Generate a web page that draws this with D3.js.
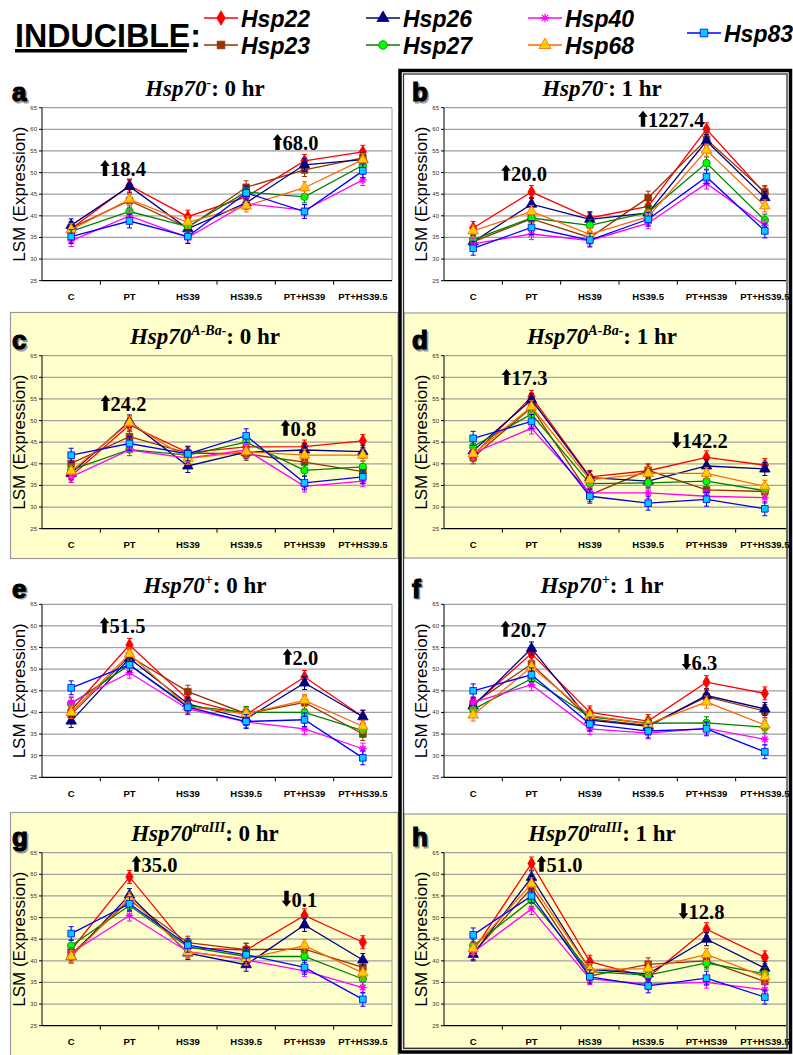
<!DOCTYPE html>
<html>
<head>
<meta charset="utf-8">
<script src="https://d3js.org/d3.v7.min.js"></script>
<style>
  body { margin: 0; background: #fff; }
  svg { display: block; }
</style>
</head>
<body>
<script>
  // ---- data ----
  var categories = ["C", "PT", "HS39", "HS39.5", "PT+HS39", "PT+HS39.5"];
  var genes = ["Hsp22", "Hsp23", "Hsp26", "Hsp27", "Hsp40", "Hsp68", "Hsp83"];
  var yTicks = [25, 30, 35, 40, 45, 50, 55, 60, 65];
  var errSE = [1.5, 1.5, 1.5, 1.4, 1.3, 1.4, 1.6];

  // LSM values: one row per gene (genes order), one column per category
  var lsmA = [
    [37.0, 47.0, 39.8, 44.4, 52.7, 54.8],
    [37.2, 43.5, 37.3, 46.6, 50.6, 53.4],
    [37.8, 46.8, 37.0, 43.0, 51.8, 53.0],
    [36.4, 41.0, 37.5, 45.5, 44.4, 51.7],
    [34.2, 40.0, 35.0, 42.8, 41.3, 48.3],
    [36.8, 43.8, 38.5, 42.3, 46.5, 53.0],
    [35.2, 38.8, 35.2, 45.3, 41.0, 50.4]
  ];
  var lsmB = [
    [37.2, 45.5, 39.5, 42.2, 60.0, 45.2],
    [34.0, 39.3, 35.0, 44.2, 57.7, 45.5],
    [34.0, 42.7, 39.2, 40.7, 57.3, 44.2],
    [34.5, 39.5, 37.8, 40.8, 52.2, 39.0],
    [33.5, 35.8, 34.3, 38.3, 47.5, 37.8],
    [36.5, 41.0, 35.7, 39.8, 55.2, 42.3],
    [32.5, 37.3, 34.4, 39.2, 49.0, 36.5]
  ];
  var lsmC = [
    [37.2, 49.0, 42.6, 43.9, 44.0, 45.3],
    [40.1, 46.3, 42.5, 42.3, 40.4, 38.2],
    [37.8, 49.8, 39.5, 42.7, 43.2, 42.8],
    [38.6, 43.3, 42.0, 45.0, 38.5, 39.3],
    [37.0, 43.2, 41.3, 43.2, 34.8, 36.0],
    [38.3, 49.5, 41.2, 42.8, 42.0, 42.0],
    [42.0, 44.7, 42.3, 46.5, 35.6, 37.0]
  ];
  var lsmD = [
    [42.0, 55.5, 37.0, 38.4, 41.5, 39.7],
    [41.5, 53.0, 32.8, 38.5, 34.0, 33.6],
    [43.0, 54.8, 36.8, 36.0, 39.5, 38.8],
    [44.0, 51.5, 35.4, 35.6, 36.0, 33.8],
    [42.5, 48.2, 33.3, 33.3, 32.5, 32.2],
    [42.3, 53.2, 36.3, 37.8, 37.8, 34.8],
    [45.9, 49.8, 32.5, 30.9, 31.8, 29.6]
  ];
  var lsmE = [
    [40.5, 55.6, 43.0, 39.5, 48.2, 39.0],
    [39.5, 53.0, 44.8, 39.7, 42.3, 35.0],
    [38.0, 52.5, 42.0, 38.5, 46.8, 39.0],
    [42.0, 51.0, 41.5, 40.0, 40.0, 35.8],
    [42.3, 49.2, 40.8, 37.8, 36.2, 31.6],
    [40.0, 53.5, 41.3, 39.7, 42.8, 36.8],
    [45.7, 51.0, 41.2, 37.9, 38.3, 29.5]
  ];
  var lsmF = [
    [41.7, 53.6, 40.0, 38.0, 47.0, 44.4],
    [42.0, 51.2, 38.5, 37.0, 43.6, 40.3],
    [41.5, 54.8, 38.2, 36.8, 43.9, 40.8],
    [40.7, 47.8, 39.0, 37.5, 37.6, 36.6],
    [42.3, 46.4, 36.2, 35.2, 36.3, 33.8],
    [39.4, 50.5, 39.3, 37.3, 42.4, 37.1],
    [45.0, 48.7, 37.3, 35.7, 36.2, 30.9]
  ];
  var lsmG = [
    [42.5, 59.4, 43.0, 42.5, 50.5, 44.3],
    [41.5, 54.0, 44.2, 42.6, 42.7, 38.5],
    [41.0, 55.2, 41.8, 39.1, 48.3, 40.2],
    [43.5, 52.8, 43.2, 41.0, 41.0, 35.8],
    [41.8, 50.5, 42.1, 40.2, 37.7, 33.8],
    [41.0, 54.5, 42.0, 40.5, 43.5, 37.2],
    [46.3, 53.2, 43.6, 41.4, 38.5, 31.1]
  ];
  var lsmH = [
    [42.3, 62.5, 39.8, 36.2, 47.3, 40.8],
    [41.8, 56.8, 36.5, 39.2, 40.0, 35.2],
    [41.5, 59.3, 38.0, 37.0, 45.0, 38.3],
    [43.5, 54.0, 37.5, 36.7, 39.5, 37.0],
    [42.0, 52.0, 35.8, 34.6, 35.0, 33.3],
    [42.8, 57.8, 38.0, 38.2, 41.5, 36.3],
    [46.0, 55.0, 36.3, 34.2, 36.0, 31.6]
  ];

  var panelLetters = ["a", "b", "c", "d", "e", "f", "g", "h"];
  var titleSups = ["-", "-", "A-Ba-", "A-Ba-", "+", "+", "traIII", "traIII"];
  var titleTimes = [": 0 hr", ": 1 hr", ": 0 hr", ": 1 hr", ": 0 hr", ": 1 hr", ": 0 hr", ": 1 hr"];

  // fold-change annotations (first at PT, second at PT+HS39)
  var annoText = [["18.4", "68.0"], ["20.0", "1227.4"], ["24.2", "0.8"], ["17.3", "142.2"],
                  ["51.5", "2.0"], ["20.7", "6.3"], ["35.0", "0.1"], ["51.0", "12.8"]];
  var annoDir = [["up", "up"], ["up", "up"], ["up", "up"], ["up", "down"],
                 ["up", "up"], ["up", "down"], ["up", "down"], ["up", "down"]];
  var annoCat = ["PT", "PT+HS39"];
  var annoLevel = [[49.2, 55.2], [48.1, 60.6], [52.2, 46.5], [58.2, 43.6],
                   [58.3, 51.0], [57.5, 49.8], [60.6, 52.5], [60.6, 49.6]];

  // ---- styles / layout ----
  var lineColors = ["#ff0000", "#993300", "#000080", "#008000", "#ff00ff", "#ff6600", "#0000ff"];
  var fillColors = ["#ff0000", "#993300", "#000080", "#00ff00", "none", "#ffcc00", "#00ccff"];
  var shapes = ["diamond", "square", "triangle", "circle", "star", "triangle", "square"];
  var annoDx = [[-24.5, -27], [-25.5, -63.5], [-24, -19], [-25, -30],
                [-25, -17], [-26, -20], [7, -18], [10, -23]];

  var W = 793, H = 1055;
  var rowTop = [107.7, 355.7, 604.3, 852.7];
  var plotH = 173;
  var colX = [[42, 392], [444, 794]];
  var colTitleX = [205, 602];
  var colLetterX = [12, 412];
  var colYLabelX = [25, 427];
  var colClip = [392, 786];
  var panelData = [lsmA, lsmB, lsmC, lsmD, lsmE, lsmF, lsmG, lsmH];

  var svg = d3.select('body').append('svg')
    .attr('width', W).attr('height', H)
    .style('font-family', 'Liberation Sans, Arial, sans-serif');

  function markerPath(shape) {
    if (shape === 'diamond') return d3.symbol().type(d3.symbolDiamond).size(46)();
    if (shape === 'square') return d3.symbol().type(d3.symbolSquare).size(44)();
    if (shape === 'triangle') return d3.symbol().type(d3.symbolTriangle).size(48)();
    if (shape === 'circle') return d3.symbol().type(d3.symbolCircle).size(44)();
    // asterisk
    var r = 3.8, q = 2.7;
    return 'M0,' + (-r) + 'V' + r + 'M' + (-q) + ',' + (-q) + 'L' + q + ',' + q +
      'M' + (-q) + ',' + q + 'L' + q + ',' + (-q) + 'M' + (-r) + ',0H' + r;
  }

  // ---- panel backgrounds ----
  var boxes = [null, null, [10.5, 312.5, 387.5, 246], [404, 313, 383, 245],
               null, null, [10.5, 812.5, 387.5, 244], [404, 814, 383, 234]];
  boxes.forEach(function(b) {
    if (!b) return;
    svg.append('rect').attr('x', b[0]).attr('y', b[1]).attr('width', b[2]).attr('height', b[3])
      .attr('fill', '#ffffcc').attr('stroke', '#9a9a9a').attr('stroke-width', 1.2);
  });

  // ---- panels ----
  panelData.forEach(function(data, p) {
    var col = p % 2, row = Math.floor(p / 2);
    var top = rowTop[row];
    var g = svg.append('g');

    var x = d3.scaleBand().domain(categories).range(colX[col]);
    var y = d3.scaleLinear().domain([25, 65]).range([top + plotH, top]);
    var xEnd = colClip[col];

    // gridlines
    g.selectAll('.grid').data(yTicks.slice(1)).enter().append('line')
      .attr('x1', colX[col][0]).attr('x2', xEnd)
      .attr('y1', function(d) { return y(d); }).attr('y2', function(d) { return y(d); })
      .attr('stroke', '#a0a0a0').attr('stroke-width', 1.3);
    if (col === 0) {
      g.append('line').attr('x1', xEnd).attr('x2', xEnd).attr('y1', y(65)).attr('y2', y(25))
        .attr('stroke', '#a0a0a0').attr('stroke-width', 1);
    }

    // y axis
    g.append('line').attr('x1', colX[col][0]).attr('x2', colX[col][0])
      .attr('y1', y(65)).attr('y2', y(25)).attr('stroke', '#000').attr('stroke-width', 1);
    g.selectAll('.ytick').data(yTicks).enter().append('line')
      .attr('x1', colX[col][0] - 3).attr('x2', colX[col][0])
      .attr('y1', function(d) { return y(d); }).attr('y2', function(d) { return y(d); })
      .attr('stroke', '#000');
    g.selectAll('.ylab').data(yTicks).enter().append('text')
      .attr('x', colX[col][0] - 5).attr('y', function(d) { return y(d) + 2; })
      .attr('text-anchor', 'end').attr('font-size', 6).attr('fill', '#333')
      .text(function(d) { return d; });

    // x axis
    g.append('line').attr('x1', colX[col][0]).attr('x2', xEnd)
      .attr('y1', y(25)).attr('y2', y(25)).attr('stroke', '#000').attr('stroke-width', 1.2);
    g.selectAll('.xtick').data(categories.slice(1)).enter().append('line')
      .attr('x1', function(d) { return x(d); }).attr('x2', function(d) { return x(d); })
      .attr('y1', y(25)).attr('y2', y(25) + 4).attr('stroke', '#000');
    g.selectAll('.xlab').data(categories).enter().append('text')
      .attr('x', function(d) { return x(d) + x.bandwidth() / 2; })
      .attr('y', y(25) + 19.5)
      .attr('text-anchor', 'middle').attr('font-size', 9.5).attr('font-weight', 'bold')
      .text(function(d) { return d; });

    // y label
    var cy = (y(25) + y(65)) / 2;
    g.append('text')
      .attr('transform', 'translate(' + colYLabelX[col] + ',' + cy + ') rotate(-90)')
      .attr('text-anchor', 'middle').attr('font-size', 17)
      .text('LSM (Expression)');

    // title
    var tb = top - 11.7;
    var t = g.append('text').attr('x', colTitleX[col]).attr('y', tb)
      .attr('text-anchor', 'middle')
      .style('font-family', 'Liberation Serif, Times New Roman, serif')
      .attr('font-size', 23).attr('font-weight', 'bold');
    t.append('tspan').attr('font-style', 'italic').text('Hsp70');
    t.append('tspan').attr('font-style', 'italic').attr('font-size', 14).attr('dy', -9)
      .text(titleSups[p]);
    t.append('tspan').attr('dy', 9).text(titleTimes[p]);

    // panel letter with shadow
    [['#9a9a9a', 1.5], ['#000', 0]].forEach(function(s) {
      g.append('text').attr('x', colLetterX[col] + s[1]).attr('y', tb + 5 + s[1])
        .attr('font-size', 26).attr('font-weight', 'bold').attr('fill', s[0])
        .attr('stroke', s[0]).attr('stroke-width', 1.2)
        .text(panelLetters[p]);
    });

    // series
    var cx = function(i) { return x(categories[i]) + x.bandwidth() / 2; };
    data.forEach(function(vals, s) {
      var sg = g.append('g');
      // error bars
      vals.forEach(function(v, i) {
        var lo = y(v - errSE[s]), hi = y(v + errSE[s]);
        sg.append('line').attr('x1', cx(i)).attr('x2', cx(i)).attr('y1', lo).attr('y2', hi)
          .attr('stroke', lineColors[s]).attr('stroke-width', 1);
        [lo, hi].forEach(function(yy) {
          sg.append('line').attr('x1', cx(i) - 2.5).attr('x2', cx(i) + 2.5)
            .attr('y1', yy).attr('y2', yy).attr('stroke', lineColors[s]).attr('stroke-width', 1);
        });
      });
      var line = d3.line().x(function(d, i) { return cx(i); }).y(function(d) { return y(d); });
      sg.append('path').datum(vals).attr('d', line)
        .attr('fill', 'none').attr('stroke', lineColors[s]).attr('stroke-width', 1.3);
      sg.selectAll('.m').data(vals).enter().append('path')
        .attr('transform', function(d, i) { return 'translate(' + cx(i) + ',' + y(d) + ')'; })
        .attr('d', markerPath(shapes[s]))
        .attr('fill', fillColors[s])
        .attr('stroke', lineColors[s]).attr('stroke-width', shapes[s] === 'star' ? 1.3 : 0.8);
    });

    // annotations
    annoCat.forEach(function(cat, k) {
      var ax = x(cat) + x.bandwidth() / 2 + annoDx[p][k];
      var yb = y(annoLevel[p][k]);
      var d;
      if (annoDir[p][k] === 'up') {
        d = 'M' + (ax - 2.2) + ',' + yb + 'V' + (yb - 10) + 'H' + (ax - 4.8) + 'L' + ax + ',' + (yb - 16) +
          'L' + (ax + 4.8) + ',' + (yb - 10) + 'H' + (ax + 2.2) + 'V' + yb + 'Z';
      } else {
        d = 'M' + (ax - 2.2) + ',' + (yb - 16) + 'V' + (yb - 6) + 'H' + (ax - 4.8) + 'L' + ax + ',' + yb +
          'L' + (ax + 4.8) + ',' + (yb - 6) + 'H' + (ax + 2.2) + 'V' + (yb - 16) + 'Z';
      }
      g.append('path').attr('d', d).attr('fill', '#000');
      g.append('text').attr('x', ax + 5).attr('y', yb)
        .style('font-family', 'Liberation Serif, Times New Roman, serif')
        .attr('font-size', 20.5).attr('font-weight', 'bold')
        .text(annoText[p][k]);
    });
  });

  // ---- right column frame ----
  svg.append('rect').attr('x', 400).attr('y', 70.5).attr('width', 390.5).attr('height', 981.5)
    .attr('fill', 'none').attr('stroke', '#000').attr('stroke-width', 3.5);
  svg.append('rect').attr('x', 403.5).attr('y', 74).attr('width', 383.5).attr('height', 974.5)
    .attr('fill', 'none').attr('stroke', '#333').attr('stroke-width', 1.3);

  // ---- legend ----
  svg.append('text').attr('x', 15).attr('y', 47)
    .attr('font-size', 34).attr('font-weight', 'bold')
    .attr('textLength', 186).attr('lengthAdjust', 'spacingAndGlyphs')
    .text('INDUCIBLE:');
  svg.append('rect').attr('x', 15).attr('y', 49).attr('width', 172).attr('height', 3.5).attr('fill', '#000');

  var legX = [204, 204, 366, 366, 528, 528, 687];
  var legY = [18, 45, 18, 45, 18, 45, 33];
  genes.forEach(function(name, s) {
    var lg = svg.append('g').attr('transform', 'translate(' + legX[s] + ',' + legY[s] + ')');
    lg.append('line').attr('x1', 0).attr('x2', 34).attr('y1', 0).attr('y2', 0)
      .attr('stroke', lineColors[s]).attr('stroke-width', 1.3);
    lg.append('path').attr('transform', 'translate(17,0) scale(1.15)')
      .attr('d', markerPath(shapes[s]))
      .attr('fill', fillColors[s]).attr('stroke', lineColors[s])
      .attr('stroke-width', shapes[s] === 'star' ? 1.1 : 0.7);
    lg.append('text').attr('x', 37).attr('y', 8.5)
      .attr('font-size', 23).attr('font-weight', 'bold').attr('font-style', 'italic')
      .text(name);
  });
</script>
</body>
</html>
